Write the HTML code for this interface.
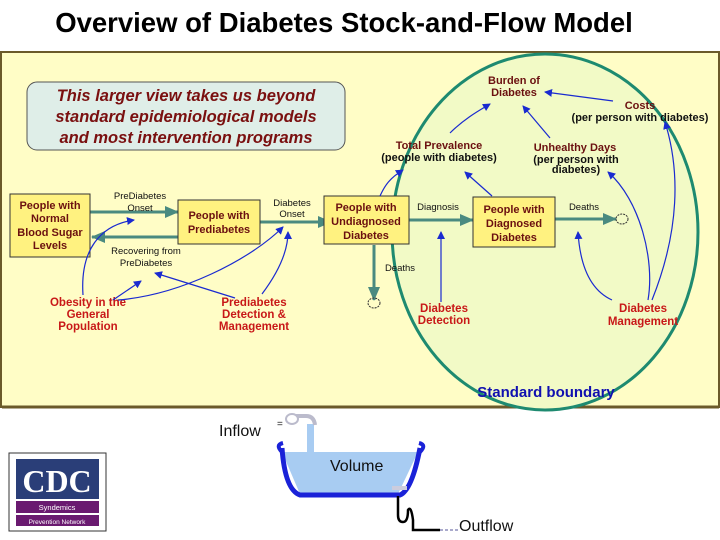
<!DOCTYPE html>
<html><head><meta charset="utf-8"><style>
body{margin:0;width:720px;height:540px;background:#fff;overflow:hidden}
svg{display:block;font-family:"Liberation Sans",sans-serif}
</style></head><body>
<svg width="720" height="540" viewBox="0 0 720 540">
<defs>
<marker id="b" markerWidth="8" markerHeight="8" refX="7" refY="4" orient="auto" markerUnits="userSpaceOnUse"><path d="M0,0L8,4L0,8z" fill="#1a2ad0"/></marker>
<marker id="g" markerWidth="14" markerHeight="12" refX="13" refY="6" orient="auto" markerUnits="userSpaceOnUse"><path d="M0,0L14,6L0,12z" fill="#4a8a80"/></marker>
</defs>
<text x="344" y="32" text-anchor="middle" font-size="27.5" font-weight="bold">Overview of Diabetes Stock-and-Flow Model</text>
<rect x="1" y="52" width="718" height="355" fill="#fffdc6" stroke="#6b5a2a" stroke-width="2"/>
<path d="M2,407H719" stroke="#6b5a2a" stroke-width="3"/>
<ellipse cx="545" cy="232" rx="153" ry="178" fill="#f2fac6" stroke="#1e8a70" stroke-width="3"/>
<rect x="27" y="82" width="318" height="68" rx="10" fill="#dfeee8" stroke="#555"/>
<g font-size="16.5" font-weight="bold" font-style="italic" fill="#7a1010" text-anchor="middle">
<text x="186" y="101">This larger view takes us beyond</text>
<text x="186" y="122">standard epidemiological models</text>
<text x="186" y="143">and most intervention programs</text></g>
<g stroke="#4a8a80" stroke-width="3" fill="none">
<path d="M90,212H178" marker-end="url(#g)"/>
<path d="M178,237H92" marker-end="url(#g)"/>
<path d="M259,222H331" marker-end="url(#g)"/>
<path d="M405,220H473" marker-end="url(#g)"/>
<path d="M555,219H616" marker-end="url(#g)"/>
<path d="M374,245V300" marker-end="url(#g)"/>
</g>
<g fill="none" stroke="#333" stroke-dasharray="2,1"><ellipse cx="622" cy="219" rx="6" ry="5"/><ellipse cx="374" cy="303" rx="6" ry="5"/></g>
<g fill="#fff280" stroke="#333">
<rect x="10" y="194" width="80" height="63"/>
<rect x="178" y="200" width="82" height="44"/>
<rect x="324" y="196" width="85" height="48"/>
<rect x="473" y="197" width="82" height="50"/>
</g>
<g font-size="11" font-weight="bold" fill="#6b1010" text-anchor="middle">
<text x="50" y="209">People with</text><text x="50" y="222">Normal</text><text x="50" y="236">Blood Sugar</text><text x="50" y="249">Levels</text>
<text x="219" y="219">People with</text><text x="219" y="233">Prediabetes</text>
<text x="366" y="211">People with</text><text x="366" y="225">Undiagnosed</text><text x="366" y="239">Diabetes</text>
<text x="514" y="213">People with</text><text x="514" y="227">Diagnosed</text><text x="514" y="241">Diabetes</text>
<text x="514" y="84">Burden of</text><text x="514" y="96">Diabetes</text>
<text x="640" y="109">Costs</text>
<text x="439" y="149">Total Prevalence</text>
<text x="575" y="151">Unhealthy Days</text>
</g>
<g font-size="11" font-weight="bold" fill="#111" text-anchor="middle">
<text x="640" y="121">(per person with diabetes)</text>
<text x="439" y="161">(people with diabetes)</text>
<text x="576" y="163">(per person with</text><text x="576" y="173">diabetes)</text>
</g>
<g font-size="9.5" fill="#111" text-anchor="middle">
<text x="140" y="199">PreDiabetes</text><text x="140" y="211">Onset</text>
<text x="146" y="254">Recovering from</text><text x="146" y="266">PreDiabetes</text>
<text x="292" y="206">Diabetes</text><text x="292" y="217">Onset</text>
<text x="438" y="210">Diagnosis</text><text x="584" y="210">Deaths</text><text x="400" y="271">Deaths</text>
</g>
<g font-size="11.5" font-weight="bold" fill="#c81818" text-anchor="middle">
<text x="88" y="306">Obesity in the</text><text x="88" y="318">General</text><text x="88" y="330">Population</text>
<text x="254" y="306">Prediabetes</text><text x="254" y="318">Detection &amp;</text><text x="254" y="330">Management</text>
<text x="444" y="312">Diabetes</text><text x="444" y="324">Detection</text>
<text x="643" y="312">Diabetes</text><text x="643" y="325">Management</text>
</g>
<text x="546" y="397" text-anchor="middle" font-size="15" font-weight="bold" fill="#1010b0">Standard boundary</text>
<g stroke="#1a2ad0" stroke-width="1.2" fill="none" marker-end="url(#b)">
<path d="M83,295C80,250 100,225 134,220"/>
<path d="M113,300L141,281"/>
<path d="M118,300C180,295 250,260 283,227"/>
<path d="M235,298L155,273"/>
<path d="M262,294C280,270 288,250 288,232"/>
<path d="M441,302V232"/>
<path d="M612,300C590,290 580,265 578,232"/>
<path d="M648,300C655,260 640,200 608,172"/>
<path d="M652,300C680,230 680,170 665,122"/>
<path d="M613,101L545,92"/>
<path d="M550,138L523,106"/>
<path d="M450,133C465,118 480,110 490,104"/>
<path d="M380,196C385,185 390,178 403,170"/>
<path d="M492,196L465,172"/>
</g>
<!-- bathtub -->
<rect x="307" y="424" width="7" height="28" fill="#a8ccf2"/>
<path d="M294,416H306Q314,416 315,425" fill="none" stroke="#bbc" stroke-width="4"/>
<ellipse cx="292" cy="419" rx="6" ry="5" fill="#fff" stroke="#bbc" stroke-width="2"/>
<text x="277" y="427" font-size="10" fill="#222">=</text>
<text x="219" y="436" font-size="16" fill="#111">Inflow</text>
<path d="M282,452L300,494H398L418,452Z" fill="#a8ccf2"/>
<path d="M282,448Q285,490 300,495H400Q412,490 420,448" fill="none" stroke="#1a22d8" stroke-width="5"/>
<path d="M282,452Q275,445 283,443M420,452Q427,445 419,443" fill="none" stroke="#1a22d8" stroke-width="4"/>
<text x="330" y="471" font-size="16" fill="#111">Volume</text>
<path d="M392,488h15" stroke="#ccd" stroke-width="4"/>
<path d="M398,496V515Q398,522 403,522Q408,522 408,510Q411,505 413,520V530H440" fill="none" stroke="#000" stroke-width="2.5"/>
<path d="M440,530H458" stroke="#aac" stroke-width="2" stroke-dasharray="3,2"/>
<text x="459" y="531" font-size="16" fill="#111">Outflow</text>
<rect x="9" y="453" width="97" height="78" fill="#fff" stroke="#333"/>
<rect x="16" y="459" width="83" height="40" fill="#2a3e78"/>
<text x="57" y="492" text-anchor="middle" font-family="Liberation Serif,serif" font-size="32" font-weight="bold" fill="#fff">CDC</text>
<rect x="16" y="501" width="83" height="12" fill="#6a1a70"/>
<rect x="16" y="515" width="83" height="11" fill="#6a1a70"/>
<text x="57" y="510" text-anchor="middle" font-size="7.5" fill="#fff">Syndemics</text>
<text x="57" y="524" text-anchor="middle" font-size="6.5" fill="#fff">Prevention Network</text>
</svg>
</body></html>
